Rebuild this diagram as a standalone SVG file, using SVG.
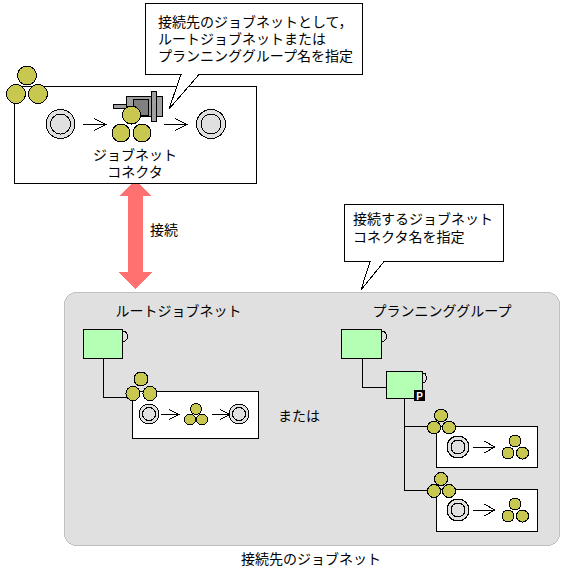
<svg xmlns="http://www.w3.org/2000/svg" xmlns:xlink="http://www.w3.org/1999/xlink" width="562" height="571" viewBox="0 0 562 571">
<style>
text{font-family:"Noto Sans CJK JP","Liberation Sans",sans-serif;font-size:14px;fill:#000}
.m{text-anchor:middle}
rect,circle,path{shape-rendering:crispEdges}
.box{fill:#fff;stroke:#000;stroke-width:1}
.ln{fill:none;stroke:#000;stroke-width:1}
.g{fill:#c8c850;stroke:#000;stroke-width:1}
.ring{fill:#e0e0e0;stroke:#000;stroke-width:1}
.grn{fill:#b4ffb4;stroke:#000;stroke-width:1}
.tab{fill:none;stroke:#000;stroke-width:1}
.mt{fill:#a0a0a0;stroke:#000;stroke-width:1}
</style>
<defs>
<g id="arr"><path class="ln" d="M0 0H23M11 -6L23 0L11 6"/></g>
<g id="arrs"><path class="ln" d="M0 0H18M8 -5L18 0L8 5"/></g>
<g id="arrm"><path class="ln" d="M0 0H22M11 -6L22 0L11 6"/></g>
</defs>
<g id="panel"><rect x="64.500" y="292.500" width="495" height="253" rx="12" fill="#e0e0e0" stroke="#c0c0c0" stroke-width="1"/></g>
<g id="connectors">
<path class="ln" d="M103.500 358V397.500H127"/>
<path class="ln" d="M362.500 358V387.500H386"/>
<path class="ln" d="M404.500 398V490.500H428M404.500 426.500H428"/>
<path d="M135 180L152 196H143V272H152L135 289L119 272H128V196H119Z" fill="#ff7070"/>
</g>
<g id="connector-net">
<rect class="box" x="14.500" y="86.500" width="242" height="97"/>
<circle class="g" cx="27" cy="75.500" r="9.500"/><circle class="g" cx="16" cy="94" r="9.500"/><circle class="g" cx="38" cy="94" r="9.500"/>
<circle class="ring" cx="60.500" cy="124" r="14.500"/><circle class="ring" cx="60.500" cy="124" r="10"/>
<use xlink:href="#arr" href="#arr" x="83" y="124.500"/>
<g id="motor"><rect class="mt" x="113.500" y="104.500" width="13" height="4"/><rect class="mt" x="126" y="96.500" width="36" height="20"/><rect x="133.500" y="99.500" width="15" height="16" fill="#808080" stroke="#000"/><rect class="mt" x="151.500" y="91.500" width="5" height="30"/></g>
<circle class="g" cx="131.500" cy="115" r="9"/><circle class="g" cx="121" cy="133" r="9"/><circle class="g" cx="142" cy="133" r="9"/>
<use xlink:href="#arr" href="#arr" x="164" y="124.500"/>
<circle class="ring" cx="211" cy="124" r="14.500"/><circle class="ring" cx="211" cy="124" r="10"/>
<text class="m" x="135" y="159.500">ジョブネット</text>
<text class="m" x="135" y="176.500">コネクタ</text>
</g>
<g id="callout-1">
<path d="M145.500 3.500H362.500V74.500H199L169 109L181 74.500H145.500Z" fill="#fff" stroke="#000" stroke-width="1"/>
<text x="158" y="26.500">接続先のジョブネットとして，</text>
<text x="158" y="43.500">ルートジョブネットまたは</text>
<text x="158" y="60.500">プランニンググループ名を指定</text>
</g>
<g id="label-conn"><text x="150" y="234.500">接続</text></g>
<g id="callout-2">
<path d="M344.500 204.500H503.500V261.500H384L361 290L370 261.500H344.500Z" fill="#fff" stroke="#000" stroke-width="1"/>
<text x="353" y="224">接続するジョブネット</text>
<text x="353" y="242">コネクタ名を指定</text>
</g>
<g id="root-title"><text class="m" x="178.500" y="316">ルートジョブネット</text></g>
<g id="plan-title"><text class="m" x="442" y="316">プランニンググループ</text></g>
<g id="root-unit"><rect class="grn" x="83.500" y="329.500" width="39" height="29"/><path class="tab" d="M123 331H125L127 334V339L125 341H123"/></g>
<g id="root-net">
<rect class="box" x="132.500" y="391.500" width="126" height="47"/>
<circle class="g" cx="141" cy="379" r="7"/><circle class="g" cx="133" cy="393.500" r="7"/><circle class="g" cx="150" cy="393.500" r="7"/>
<circle class="ring" cx="149" cy="414" r="10"/><circle class="ring" cx="149" cy="414" r="6.500"/>
<use xlink:href="#arrs" href="#arrs" x="161" y="414.500"/>
<circle class="g" cx="196" cy="409" r="5.500"/><circle class="g" cx="190" cy="419.500" r="5.500"/><circle class="g" cx="202" cy="419.500" r="5.500"/>
<use xlink:href="#arrs" href="#arrs" x="212" y="414.500"/>
<circle class="ring" cx="239" cy="414" r="10"/><circle class="ring" cx="239" cy="414" r="6.500"/>
</g>
<g id="or-label"><text class="m" x="299" y="420.500">または</text></g>
<g id="plan-unit-1"><rect class="grn" x="341.500" y="329.500" width="40" height="29"/><path class="tab" d="M382 331H384L386 334V339L384 341H382"/></g>
<g id="plan-unit-2"><rect class="grn" x="386.500" y="371.500" width="36" height="27"/><path class="tab" d="M423 373H425L426 376V380L425 382H423"/>
<rect x="414" y="390" width="11" height="11" fill="#000"/><text class="m" x="419.500" y="399.500" style="font-family:'Liberation Sans',sans-serif;font-size:10px;font-weight:bold;fill:#fff">P</text></g>
<g id="plan-net-1">
<rect class="box" x="436.500" y="426.500" width="101" height="41"/>
<circle class="g" cx="441" cy="415.500" r="6.500"/><circle class="g" cx="434" cy="427.500" r="6.500"/><circle class="g" cx="449" cy="427.500" r="6.500"/>
<circle class="ring" cx="458" cy="447" r="11"/><circle class="ring" cx="458" cy="447" r="7"/>
<use xlink:href="#arrm" href="#arrm" x="473" y="447"/>
<circle class="g" cx="515" cy="441" r="6"/><circle class="g" cx="508" cy="453" r="6"/><circle class="g" cx="522.500" cy="453" r="6"/>
</g>
<g id="plan-net-2">
<rect class="box" x="436.500" y="489.500" width="101" height="41.500"/>
<circle class="g" cx="441" cy="479" r="6.500"/><circle class="g" cx="434" cy="491" r="6.500"/><circle class="g" cx="449" cy="491" r="6.500"/>
<circle class="ring" cx="458" cy="510" r="11"/><circle class="ring" cx="458" cy="510" r="7"/>
<use xlink:href="#arrm" href="#arrm" x="473" y="510"/>
<circle class="g" cx="515" cy="504" r="6"/><circle class="g" cx="508" cy="516" r="6"/><circle class="g" cx="522.500" cy="516" r="6"/>
</g>
<g id="caption"><text class="m" x="311" y="563.500">接続先のジョブネット</text></g>
</svg>
